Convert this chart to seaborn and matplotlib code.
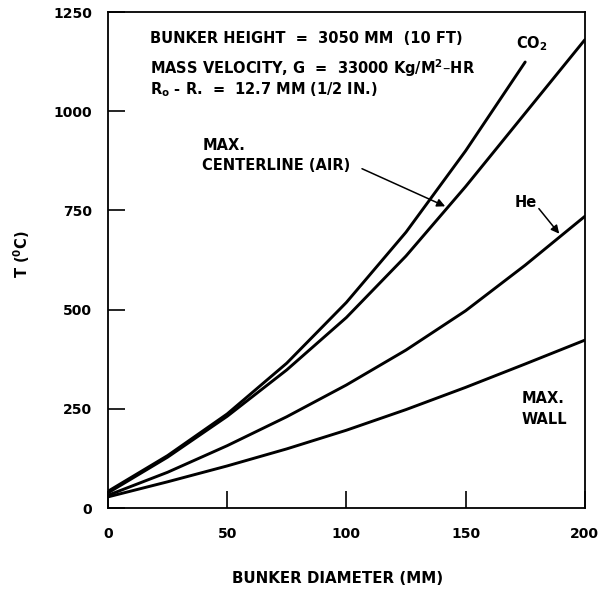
import numpy as np
import pandas as pd
import matplotlib
matplotlib.use("Agg")
import matplotlib.pyplot as plt
import seaborn as sns

# Temperature rise vs. bunker diameter (°C)
x_mm = [0, 25, 50, 75, 100, 125, 150, 175, 200]
wall_T = [28, 66, 106, 149, 196, 248, 304, 363, 423]
he_T = [32, 90, 157, 230, 310, 398, 497, 612, 735]
air_T = [38, 128, 231, 348, 480, 635, 810, 995, 1180]
co2_x_mm = [0, 25, 50, 75, 100, 125, 150, 175]
co2_T = [42, 132, 237, 365, 518, 695, 900, 1124]

x_ticks = [0, 50, 100, 150, 200]
y_ticks = [0, 250, 500, 750, 1000, 1250]

series = {
    "MAX. WALL": (x_mm, wall_T),
    "He": (x_mm, he_T),
    "AIR": (x_mm, air_T),
    "CO2": (co2_x_mm, co2_T),
}
df = pd.concat(
    [pd.DataFrame({"d": xs, "T": ys, "curve": name}) for name, (xs, ys) in series.items()],
    ignore_index=True,
)

sns.set_theme(style="white")
plt.rcParams["font.family"] = ["DejaVu Sans"]
plt.rcParams["mathtext.fontset"] = "dejavusans"

fig = plt.figure(figsize=(6.13, 5.89), dpi=100)
ax = fig.add_axes([0.176, 0.1375, 0.778, 0.8421])

sns.lineplot(data=df, x="d", y="T", units="curve", estimator=None,
             color="black", linewidth=2.1, ax=ax, legend=False)

ax.set_xlim(0, 200)
ax.set_ylim(0, 1250)
ax.set_xticks(x_ticks)
ax.set_yticks(y_ticks)
ax.set_xticklabels([str(v) for v in x_ticks])
ax.set_yticklabels([str(v) for v in y_ticks])
for lbl in ax.get_xticklabels() + ax.get_yticklabels():
    lbl.set_fontsize(10)
    lbl.set_fontweight("bold")

ax.tick_params(axis="both", which="major", direction="in", length=12, width=1.2,
               color="black", labelcolor="black",
               bottom=True, left=True, top=False, right=False)
ax.tick_params(axis="x", pad=13.5)
ax.tick_params(axis="y", pad=11.5)

for side in ["left", "right", "top", "bottom"]:
    ax.spines[side].set_visible(True)
    ax.spines[side].set_color("black")
    ax.spines[side].set_linewidth(1.3)

ax.set_xlabel("BUNKER DIAMETER (MM)", fontsize=10.8, fontweight="bold", color="black")
ax.xaxis.set_label_coords(0.482, -0.127)
ax.set_ylabel(r"T ($^\mathbf{0}$C)", fontsize=10.5, fontweight="bold", color="black")
ax.yaxis.set_label_coords(-0.159, 0.512)

txt = dict(fontsize=10.5, fontweight="bold", color="black", ha="left", va="center")
ax.text(17.5, 1184, "BUNKER HEIGHT  =  3050 MM  (10 FT)", **txt)
ax.text(17.5, 1108, r"MASS VELOCITY, G  =  33000 Kg/M$^\mathbf{2}$–HR", **txt)
ax.text(17.5, 1055, r"R$_\mathbf{o}$ - R.  =  12.7 MM (1/2 IN.)", **txt)

ax.text(39.6, 914, "MAX.", **txt)
ax.text(39.6, 864, "CENTERLINE (AIR)", **txt)
ax.text(171, 1170, r"CO$_\mathbf{2}$", **txt)
ax.text(173.5, 277, "MAX.", **txt)
ax.text(173.5, 224, "WALL", **txt)
ax.text(170.5, 770, "He", **txt)

arrow = dict(arrowstyle="-|>", color="black", lw=1.1, mutation_scale=12)
air_tip_x = 142.5
ax.annotate("", xy=(air_tip_x, np.interp(air_tip_x, x_mm, air_T)),
            xytext=(105.5, 858), arrowprops=arrow)
he_tip_x = 190
ax.annotate("", xy=(he_tip_x, np.interp(he_tip_x, x_mm, he_T)),
            xytext=(180, 760), arrowprops=arrow)

fig.savefig("out.png", dpi=100)
